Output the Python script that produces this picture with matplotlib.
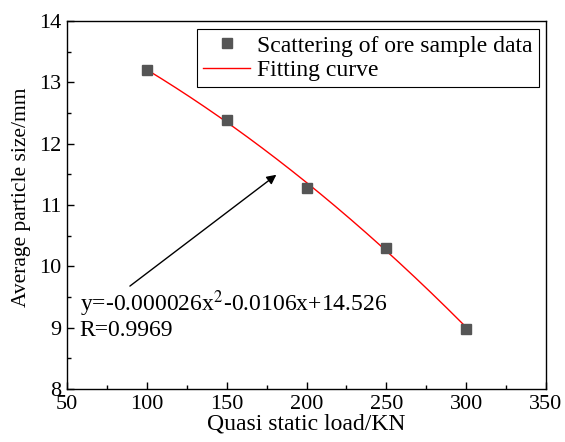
import numpy as np
import matplotlib.pyplot as plt
from matplotlib.ticker import MultipleLocator

plt.rcParams['font.family'] = ['Liberation Serif', 'DejaVu Serif']
plt.rcParams['mathtext.fontset'] = 'stix'

# datos
carga = [100, 150, 200, 250, 300]
tamano = [13.2, 12.38, 11.28, 10.3, 8.98]

# coeficientes del ajuste (segun la ecuacion del grafico)
coef = [-0.000026, -0.0106, 14.526]

x_fit = np.linspace(min(carga), max(carga), 200)
y_fit = np.polyval(coef, x_fit)

fig = plt.figure(figsize=(5.65, 4.42), dpi=100)
ax = fig.add_axes([0.1186, 0.12, 0.8478, 0.8325])

ax.plot(carga, tamano, 's', color='#555555', markersize=6.5, label='Scattering of ore sample data', zorder=3)
ax.plot(x_fit, y_fit, '-', color='red', linewidth=1.0, label='Fitting curve', zorder=2)

ax.set_xlim(50, 350)
ax.set_ylim(8, 14)
ax.xaxis.set_major_locator(MultipleLocator(50))
ax.xaxis.set_minor_locator(MultipleLocator(25))
ax.yaxis.set_major_locator(MultipleLocator(1))
ax.yaxis.set_minor_locator(MultipleLocator(0.5))
ax.tick_params(which='both', direction='in', top=False, right=False, labelsize=16,
               labelfontfamily='Liberation Serif')
ax.tick_params(which='major', length=5, width=1)
ax.tick_params(which='minor', length=3, width=1)
ax.tick_params(axis='x', pad=4)
ax.tick_params(axis='y', pad=4)
for s in ax.spines.values():
    s.set_linewidth(1.0)

ax.set_xlabel('Quasi static load/KN', fontsize=17, labelpad=0)
ax.set_ylabel('Average particle size/mm', fontsize=15.5)
ax.yaxis.set_label_coords(-0.076, 0.52)

leg = ax.legend(loc='upper right', bbox_to_anchor=(0.985, 0.978), fontsize=17, fancybox=False,
                edgecolor='black', framealpha=1, borderpad=0.25, handlelength=2.0,
                labelspacing=0.12, handletextpad=0.3, borderaxespad=0)
leg.get_frame().set_linewidth(0.8)

# flecha y ecuacion
ax.annotate('', xy=(182.5, 11.52), xytext=(88, 9.65),
            arrowprops=dict(arrowstyle='-|>', color='black', lw=1.0, mutation_scale=14))
ax.text(58, 9.27, 'y=-0.000026x$^2$-0.0106x+14.526', fontsize=17, va='baseline')
ax.text(58, 8.86, 'R=0.9969', fontsize=17, va='baseline')

fig.savefig('out.png', dpi=100)
